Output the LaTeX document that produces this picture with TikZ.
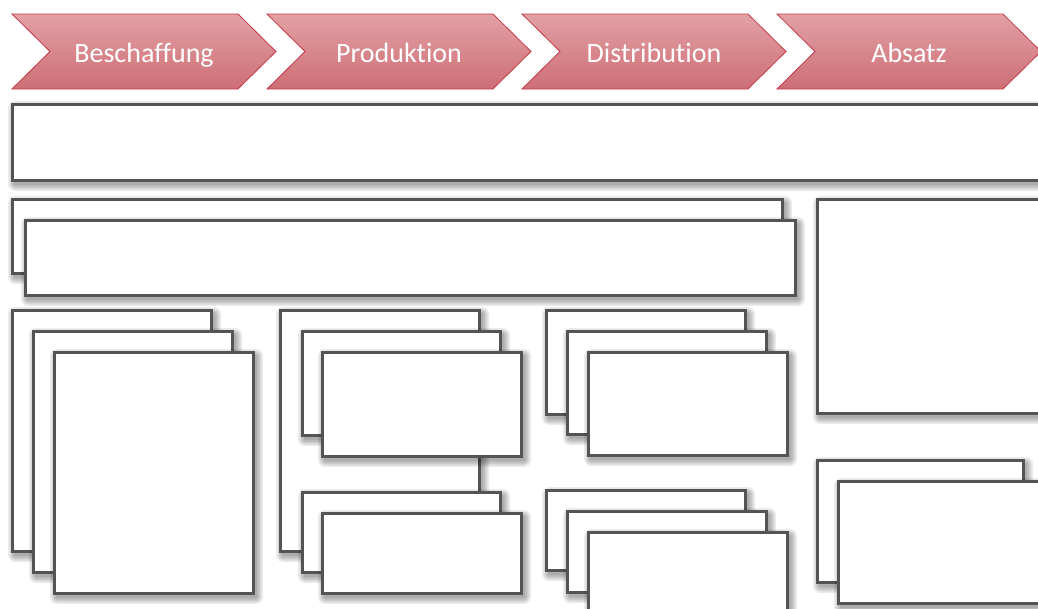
\documentclass[tikz,border=0pt]{standalone}
\usepackage{fontspec}
\setmainfont{Carlito}[Ligatures={NoCommon,NoContextual}, RawFeature={-liga;-dlig;-clig}]
\definecolor{edge}{HTML}{545454}
\definecolor{chevtop}{HTML}{E2A1A4}
\definecolor{chevbot}{HTML}{CD6E76}
\definecolor{chevline}{HTML}{C63A4B}
\tikzset{
  panel/.style={rectangle, draw=edge, line width=3pt, fill=white,
    inner sep=0pt, outer sep=0pt, anchor=north west},
  softshade/.style={fill=black, fill opacity=0.075, draw=none},
  chev/.style={draw=chevline, line width=0.8pt, top color=chevtop, bottom color=chevbot},
  chevtext/.style={text=white, font=\fontsize{28}{34}\selectfont, anchor=base}
}
% panel with a soft drop shadow: name, left, top, right, bottom
\newcommand\panelbox[5]{%
  \foreach \r in {7,5.5,4,2.5,1}{%
    \path[softshade, rounded corners={\r pt}]
      ({#2+3-\r},{#3+4-\r}) rectangle ({#4+3+\r},{#5+4+\r});}
  \node[panel, minimum width={#4pt-#2pt}, minimum height={#5pt-#3pt}] (#1) at (#2,#3) {};}
% process step: name, left edge, label
\newcommand\stepchevron[3]{%
  \path[chev] (#2,14) -- ({#2+226},14) -- ({#2+264},51.5) -- ({#2+226},89)
    -- (#2,89) -- ({#2+38},51.5) -- cycle;
  \node[chevtext] (#1) at ({#2+132},62) {#3};}
\begin{document}
\begin{tikzpicture}[x=1pt, y=-1pt]
  \useasboundingbox (0,0) rectangle (1038,608);
  \clip (0,0) rectangle (1038,608);

  % value chain
  \stepchevron{s1}{12}{Beschaffung}
  \stepchevron{s2}{267}{Produktion}
  \stepchevron{s3}{522}{Distribution}
  \stepchevron{s4}{777}{Absatz}

  % full-width band
  \panelbox{band}{12}{104}{1048}{180}

  % wide double panel
  \panelbox{wideA}{12}{199}{782}{273}
  \panelbox{wideB}{25}{220}{795}{295}

  % right column
  \panelbox{rtop}{817}{199}{1048}{413}
  \panelbox{rbotA}{817}{460}{1023}{582}
  \panelbox{rbotB}{838}{481}{1048}{603}

  % left stack
  \panelbox{l1}{12}{310}{211}{551}
  \panelbox{l2}{33}{331}{232}{572}
  \panelbox{l3}{54}{352}{253}{593}

  % middle stack
  \panelbox{m1}{280}{310}{479}{551}
  \panelbox{m2}{302}{331}{500}{435}
  \panelbox{m3}{322}{352}{521}{456}
  \panelbox{m4}{302}{492}{500}{572}
  \panelbox{m5}{322}{513}{521}{593}

  % third stacks
  \panelbox{c1}{546}{310}{745}{414}
  \panelbox{c2}{567}{331}{766}{434}
  \panelbox{c3}{588}{352}{787}{455}
  \panelbox{c4}{546}{490}{745}{570}
  \panelbox{c5}{567}{511}{766}{592}
  \panelbox{c6}{588}{532}{787}{620}
\end{tikzpicture}
\end{document}
